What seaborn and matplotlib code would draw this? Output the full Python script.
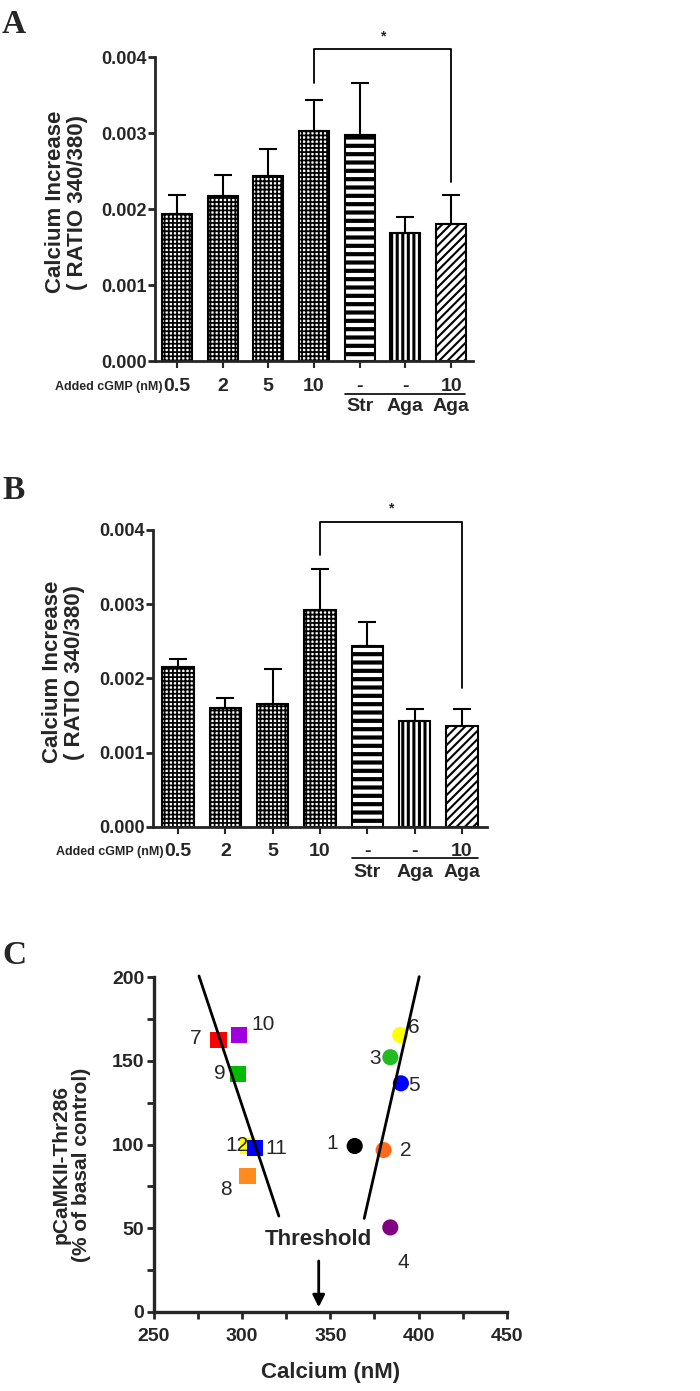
import numpy as np
import pandas as pd
import matplotlib
matplotlib.use("Agg")
import matplotlib.pyplot as plt
import seaborn as sns

# ---- data ----
dose_labels = ["0.5", "2", "5", "10", "-", "-", "10"]
drug_labels = ["", "", "", "", "Str", "Aga", "Aga"]
hatches = ["++++", "++++", "++++", "++++", "--", "|||", "////"]
hatch_lws = [1.3, 1.3, 1.3, 1.3, 3.0, 2.2, 1.5]

a_mean = [0.00193, 0.00217, 0.00244, 0.00303, 0.00297, 0.00168, 0.00180]
a_err = [0.00025, 0.00028, 0.00035, 0.00040, 0.00069, 0.00021, 0.00038]
a_bracket = [0.00366, 0.00410, 0.00236]   # left leg, top, right leg

b_mean = [0.00215, 0.00160, 0.00165, 0.00292, 0.00244, 0.00142, 0.00136]
b_err = [0.00011, 0.00014, 0.00048, 0.00056, 0.00032, 0.00017, 0.00023]
b_bracket = [0.00366, 0.00411, 0.00187]

pt_label = ["7", "10", "9", "12", "11", "8", "1", "2", "3", "6", "5", "4"]
pt_calcium = [286.6, 298.1, 297.4, 303.2, 307.2, 303.0, 363.8, 380.2, 384.0, 389.6, 390.0, 384.0]
pt_pcamk = [162.5, 165.3, 142.2, 99.1, 98.1, 81.4, 99.1, 96.7, 152.2, 165.5, 136.6, 50.4]
pt_shape = ["s", "s", "s", "s", "s", "s", "o", "o", "o", "o", "o", "o"]
pt_color = ["#ff0000", "#a000e0", "#00bb00", "#ffff00", "#0000ff", "#ff8c1a",
            "#000000", "#ff6a1a", "#22bb22", "#ffff00", "#0000ff", "#800080"]
lab_x = [273.6, 311.7, 287.5, 297.2, 319.5, 291.0, 350.8, 392.8, 375.5, 397.5, 397.5, 391.3]
lab_y = [163.5, 172.0, 142.6, 99.5, 97.5, 73.2, 100.3, 96.7, 151.5, 170.0, 135.0, 29.3]

left_fit_x = [275.5, 320.8]
left_fit_y = [200.8, 57.2]
right_fit_x = [369.2, 400.4]
right_fit_y = [55.8, 200.4]
threshold_x = 343.4

sns.set_style("ticks")
plt.rcParams["font.family"] = ["Liberation Sans", "DejaVu Sans"]
plt.rcParams["font.weight"] = "bold"
plt.rcParams["axes.linewidth"] = 2.0

fig = plt.figure(figsize=(7, 13.91), dpi=100)
H = 1391.0


def bar_panel(rect, means, errs, bracket, row1, row2, line_y, line_span, ylab_xy):
    ax = fig.add_axes(rect)
    df = pd.DataFrame({"pos": list(range(len(means))), "val": means})
    sns.barplot(data=df, x="pos", y="val", color="white", width=0.66,
                edgecolor="black", linewidth=1.5, ax=ax)
    for p, h, hl in zip(ax.patches, hatches, hatch_lws):
        p.set_hatch(h)
        if hasattr(p, "set_hatch_linewidth"):
            p.set_hatch_linewidth(hl)
    ax.errorbar(range(len(means)), means, yerr=[np.zeros(len(errs)), errs],
                fmt="none", ecolor="black", elinewidth=1.5, capsize=6.5, capthick=1.5)
    ax.set_ylim(0, 0.004)
    ax.set_xlim(-0.5, len(means) - 0.5)
    ax.set_yticks([0, 0.001, 0.002, 0.003, 0.004])
    ax.set_yticklabels(["0.000", "0.001", "0.002", "0.003", "0.004"])
    ax.tick_params(axis="y", labelsize=13, width=2, length=5, pad=1)
    ax.tick_params(axis="x", width=1.5, length=5, labelbottom=False)
    ax.set_xlabel("")
    ax.set_ylabel("Calcium Increase\n( RATIO 340/380)", fontsize=16, fontweight="bold",
                  linespacing=1.05)
    ax.yaxis.set_label_coords(*ylab_xy)
    sns.despine(ax=ax)
    tr = ax.get_xaxis_transform()
    ax.text(-0.31, row1, "Added cGMP (nM)", transform=tr, ha="right", va="center",
            fontsize=9, fontweight="bold")
    for i, (d, g) in enumerate(zip(dose_labels, drug_labels)):
        ax.text(i, row1, d, transform=tr, ha="center", va="center", fontsize=14)
        if g:
            ax.text(i, row2, g, transform=tr, ha="center", va="center", fontsize=14)
    ax.plot(line_span, [line_y, line_y], transform=tr, color="black", lw=1.2, clip_on=False)
    # significance bracket between 10 nM and Aga + 10 nM
    ax.plot([3, 3, 6, 6], [bracket[0], bracket[1], bracket[1], bracket[2]],
            color="black", lw=1.3, clip_on=False)
    ax.text(4.5, bracket[1] + 0.00008, "*", ha="center", va="bottom", fontsize=10)
    return ax


# panel A
axA = bar_panel([155 / 700, 1 - 361 / H, 318 / 700, 304 / H], a_mean, a_err, a_bracket,
                -0.0855, -0.151, -0.108, [3.68, 6.30], (-0.211, 0.523))
axA.set_xlim(-0.48, 6.48)
# panel B
axB = bar_panel([153 / 700, 1 - 826.7 / H, 334 / 700, 296.7 / H], b_mean, b_err, b_bracket,
                -0.084, -0.155, -0.107, [3.67, 6.33], (-0.204, 0.521))
axB.set_xlim(-0.53, 6.53)

# panel C
axC = fig.add_axes([154 / 700, 1 - 1311.7 / H, 352.7 / 700, 334.4 / H])
dfc = pd.DataFrame({"calcium": pt_calcium, "pcamk": pt_pcamk, "label": pt_label,
                    "shape": pt_shape})
sns.scatterplot(data=dfc, x="calcium", y="pcamk", hue="label",
                palette=dict(zip(pt_label, pt_color)), style="shape",
                markers={"s": "s", "o": "o"}, s=135, edgecolor="none",
                legend=False, ax=axC, zorder=3)
axC.plot(left_fit_x, left_fit_y, color="black", lw=2, zorder=4, clip_on=False)
axC.plot(right_fit_x, right_fit_y, color="black", lw=2, zorder=4, clip_on=False)
for t, x, y in zip(pt_label, lab_x, lab_y):
    axC.text(x, y, t, ha="center", va="center", fontsize=15, fontweight="normal")
axC.text(threshold_x, 43.3, "Threshold", ha="center", va="center", fontsize=16)
axC.annotate("", xy=(threshold_x, 1), xytext=(threshold_x, 32),
             arrowprops=dict(arrowstyle="-|>", color="black", lw=2, mutation_scale=18))
axC.set_xlim(250, 450)
axC.set_ylim(0, 200)
axC.set_xticks([250, 300, 350, 400, 450])
axC.set_xticks([275, 325, 375, 425], minor=True)
axC.set_yticks([0, 50, 100, 150, 200])
axC.set_yticks([25, 75, 125, 175], minor=True)
axC.tick_params(which="both", labelsize=14, width=2, length=5)
axC.tick_params(axis="x", which="both", pad=7)
axC.tick_params(axis="y", which="both", pad=2)
axC.spines["left"].set_linewidth(2.4)
axC.spines["bottom"].set_linewidth(2.4)
axC.set_xlabel("Calcium (nM)", fontsize=16, fontweight="bold", labelpad=12)
axC.set_ylabel("pCaMKII-Thr286\n(% of basal control)", fontsize=15, fontweight="bold",
               linespacing=1.05)
axC.yaxis.set_label_coords(-0.18, 0.44)
sns.despine(ax=axC)

# panel letters
for letter, ybase in [("A", 33), ("B", 499), ("C", 964)]:
    fig.text(2 / 700, 1 - ybase / H, letter, fontsize=24, fontweight="bold",
             family=["Liberation Serif", "DejaVu Serif"], va="baseline", ha="left")

fig.savefig("out.png", dpi=100)
